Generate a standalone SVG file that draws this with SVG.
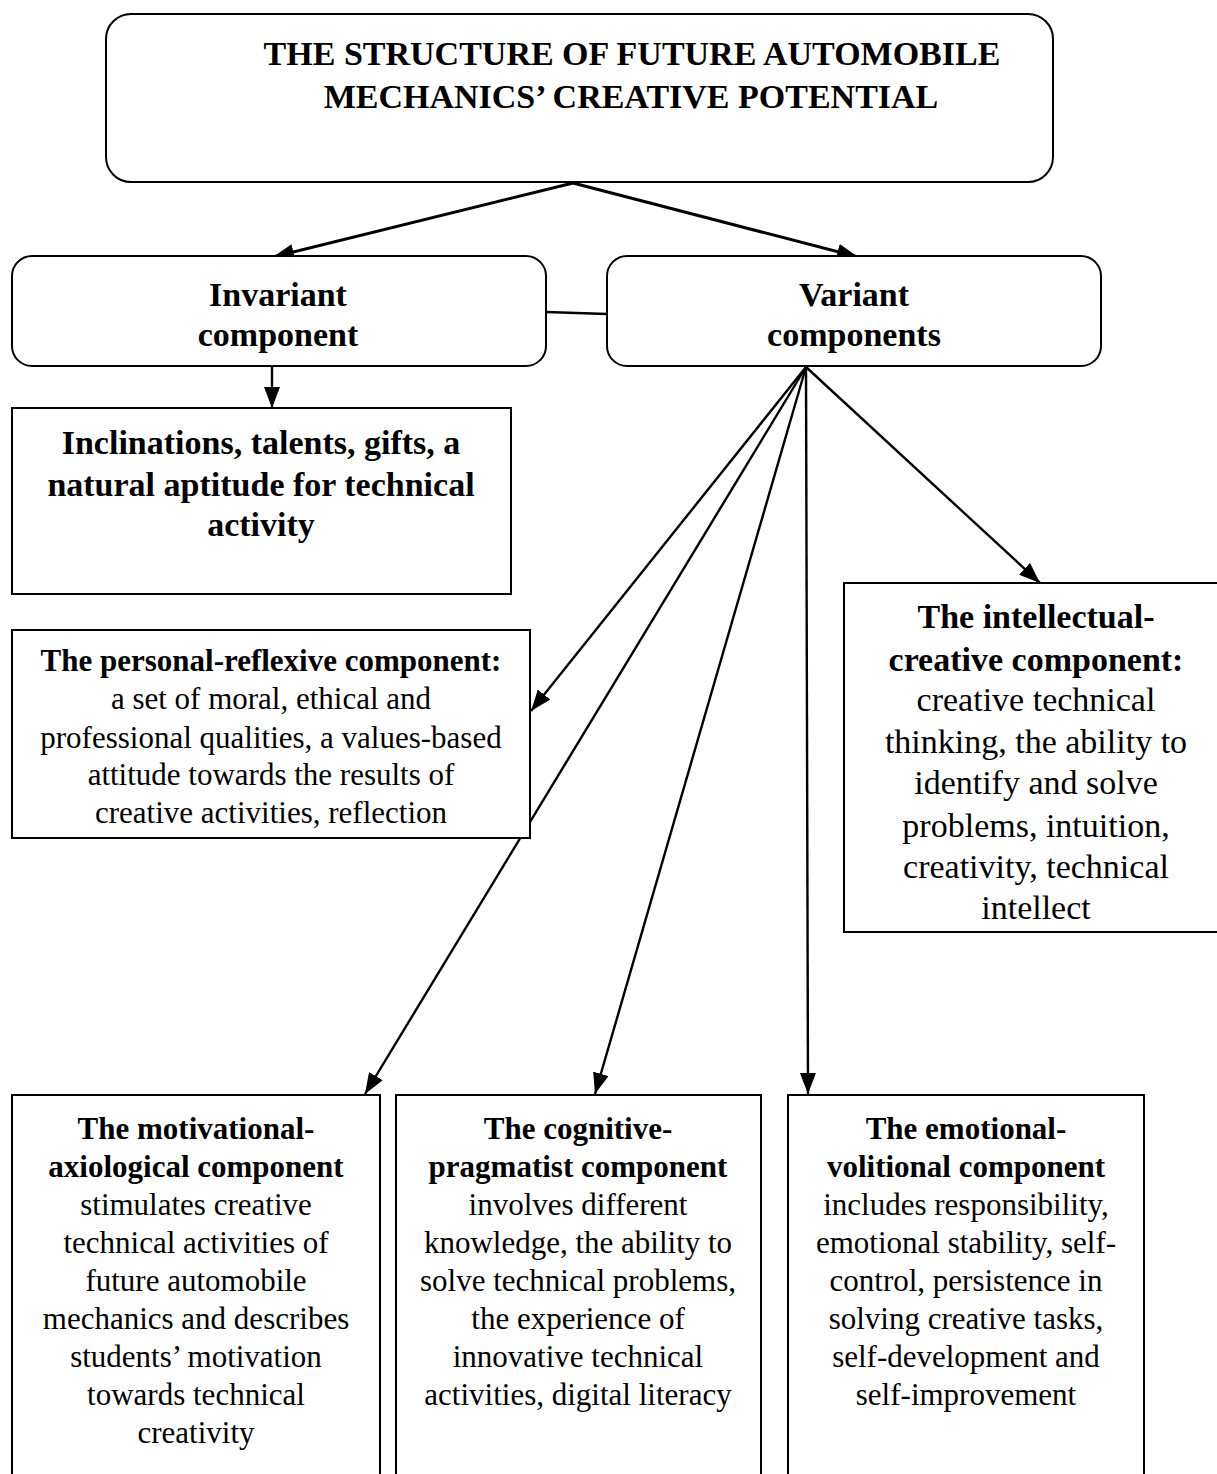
<svg xmlns="http://www.w3.org/2000/svg" width="1217" height="1474" viewBox="0 0 1217 1474" font-family="'Liberation Serif', 'Times New Roman', serif">
<defs>
<marker id="arr" markerUnits="userSpaceOnUse" markerWidth="24" markerHeight="18" refX="21" refY="8" orient="auto">
<path d="M0,0 L21,8 L0,16 z" fill="#000"/>
</marker>
<style>
.box{fill:#fff;stroke:#000;stroke-width:2}
.t{font-family:'Liberation Serif','Times New Roman',serif;fill:#000;text-anchor:middle}
.b{font-weight:bold}
.s34{font-size:34px}
.s31{font-size:31px}
.con{stroke:#000;stroke-width:2.4;fill:none}
.thick{stroke-width:3}
.arr{marker-end:url(#arr)}
</style>
</defs>
<rect width="1217" height="1474" fill="#fff"/>
<g id="connectors">
<line class="con thick arr" x1="573" y1="183" x2="273" y2="257"/>
<line class="con thick arr" x1="573" y1="183" x2="858" y2="257"/>
<line class="con" x1="546" y1="312" x2="607" y2="314"/>
<line class="con arr" x1="272" y1="366" x2="272" y2="408"/>
<line class="con arr" x1="806" y1="367" x2="531" y2="711"/>
<line class="con arr" x1="806" y1="367" x2="365" y2="1094"/>
<line class="con arr" x1="806" y1="367" x2="595" y2="1094"/>
<line class="con arr" x1="806" y1="367" x2="808" y2="1094"/>
<line class="con arr" x1="806" y1="367" x2="1040" y2="583"/>
</g>
<g id="title">
<rect class="box" x="106" y="14" width="947" height="168" rx="25"/>
<text class="t b s34" x="632" y="65">THE STRUCTURE OF FUTURE AUTOMOBILE</text>
<text class="t b s34" x="631" y="108">MECHANICS’ CREATIVE POTENTIAL</text>
</g>
<g id="invariant">
<rect class="box" x="12" y="256" width="534" height="110" rx="20"/>
<text class="t b s34" x="278" y="306">Invariant</text>
<text class="t b s34" x="278" y="346">component</text>
</g>
<g id="variant">
<rect class="box" x="607" y="256" width="494" height="110" rx="20"/>
<text class="t b s34" x="854" y="306">Variant</text>
<text class="t b s34" x="854" y="346">components</text>
</g>
<g id="inclinations">
<rect class="box" x="12" y="408" width="499" height="186"/>
<text class="t b s34" x="261" y="454">Inclinations, talents, gifts, a</text>
<text class="t b s34" x="261" y="496">natural aptitude for technical</text>
<text class="t b s34" x="261" y="536">activity</text>
</g>
<g id="personal">
<rect class="box" x="12" y="630" width="518" height="208"/>
<text class="t b s31" x="271" y="671">The personal-reflexive component:</text>
<text class="t s31" x="271" y="709">a set of moral, ethical and</text>
<text class="t s31" x="271" y="748">professional qualities, a values-based</text>
<text class="t s31" x="271" y="785">attitude towards the results of</text>
<text class="t s31" x="271" y="823">creative activities, reflection</text>
</g>
<g id="intellectual">
<rect class="box" x="844" y="583" width="380" height="349"/>
<text class="t b s34" x="1036" y="628">The intellectual-</text>
<text class="t b s34" x="1036" y="671">creative component:</text>
<text class="t s34" x="1036" y="711">creative technical</text>
<text class="t s34" x="1036" y="753">thinking, the ability to</text>
<text class="t s34" x="1036" y="794">identify and solve</text>
<text class="t s34" x="1036" y="837">problems, intuition,</text>
<text class="t s34" x="1036" y="878">creativity, technical</text>
<text class="t s34" x="1036" y="919">intellect</text>
</g>
<g id="motivational">
<rect class="box" x="12" y="1095" width="368" height="400"/>
<text class="t b s31" x="196" y="1139">The motivational-</text>
<text class="t b s31" x="196" y="1177">axiological component</text>
<text class="t s31" x="196" y="1215">stimulates creative</text>
<text class="t s31" x="196" y="1253">technical activities of</text>
<text class="t s31" x="196" y="1291">future automobile</text>
<text class="t s31" x="196" y="1329">mechanics and describes</text>
<text class="t s31" x="196" y="1367">students’ motivation</text>
<text class="t s31" x="196" y="1405">towards technical</text>
<text class="t s31" x="196" y="1443">creativity</text>
</g>
<g id="cognitive">
<rect class="box" x="396" y="1095" width="365" height="400"/>
<text class="t b s31" x="578" y="1139">The cognitive-</text>
<text class="t b s31" x="578" y="1177">pragmatist component</text>
<text class="t s31" x="578" y="1215">involves different</text>
<text class="t s31" x="578" y="1253">knowledge, the ability to</text>
<text class="t s31" x="578" y="1291">solve technical problems,</text>
<text class="t s31" x="578" y="1329">the experience of</text>
<text class="t s31" x="578" y="1367">innovative technical</text>
<text class="t s31" x="578" y="1405">activities, digital literacy</text>
</g>
<g id="emotional">
<rect class="box" x="788" y="1095" width="356" height="400"/>
<text class="t b s31" x="966" y="1139">The emotional-</text>
<text class="t b s31" x="966" y="1177">volitional component</text>
<text class="t s31" x="966" y="1215">includes responsibility,</text>
<text class="t s31" x="966" y="1253">emotional stability, self-</text>
<text class="t s31" x="966" y="1291">control, persistence in</text>
<text class="t s31" x="966" y="1329">solving creative tasks,</text>
<text class="t s31" x="966" y="1367">self-development and</text>
<text class="t s31" x="966" y="1405">self-improvement</text>
</g>
</svg>
